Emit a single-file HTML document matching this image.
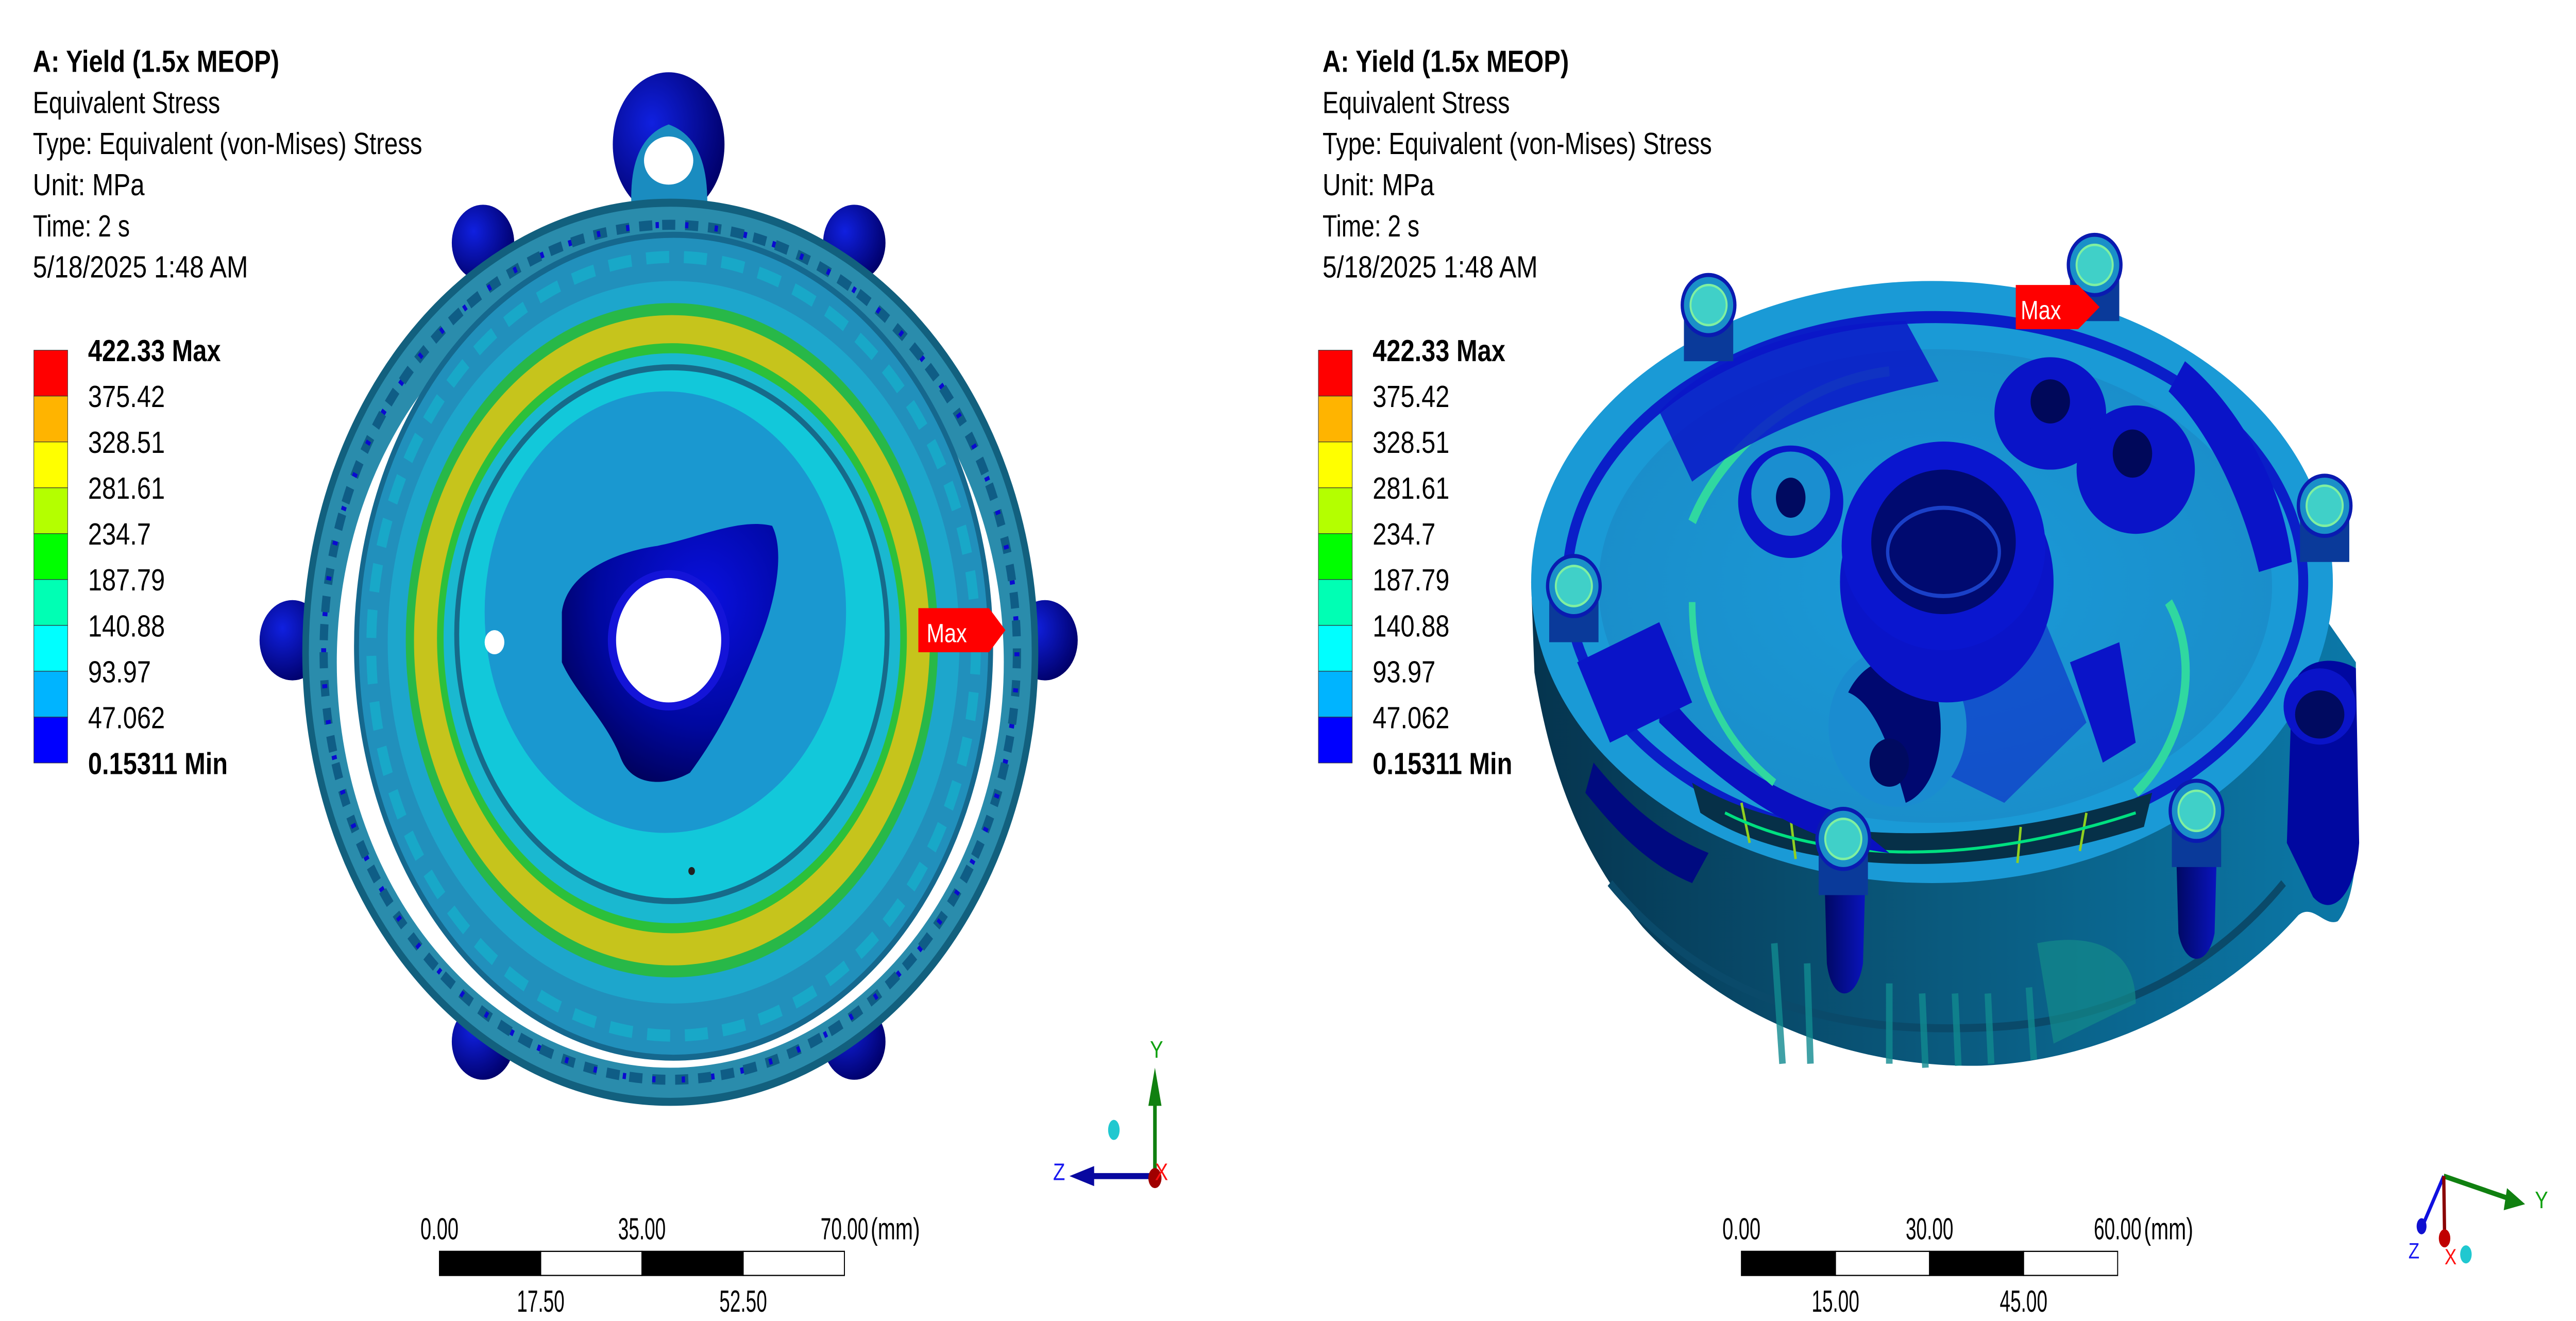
<!DOCTYPE html>
<html><head><meta charset="utf-8">
<style>
html,body{margin:0;padding:0;background:#fff;overflow:hidden;width:100%;height:100%;}
svg{display:block;position:absolute;left:0;top:0;width:100vw;height:100vh;}
text{font-family:"Liberation Sans",sans-serif;}
.cond{font-family:"Liberation Sans Narrow","Liberation Sans",sans-serif;}
</style></head>
<body>
<svg id="root" viewBox="0 0 1568 658.2" preserveAspectRatio="none" xmlns="http://www.w3.org/2000/svg">
<defs>
<radialGradient id="lugG" cx="0.35" cy="0.35" r="0.7"><stop offset="0" stop-color="#1020e0"/><stop offset="1" stop-color="#00006a"/></radialGradient>
<radialGradient id="blobG" cx="0.65" cy="0.3" r="0.8"><stop offset="0" stop-color="#0a10e0"/><stop offset="0.6" stop-color="#0008a0"/><stop offset="1" stop-color="#000050"/></radialGradient>
<linearGradient id="drumG" x1="0" x2="1" y1="0" y2="0"><stop offset="0" stop-color="#05344e"/><stop offset="0.5" stop-color="#0a5a7e"/><stop offset="1" stop-color="#0b78a8"/></linearGradient>
<radialGradient id="diskG" cx="0.5" cy="0.5" r="0.6"><stop offset="0" stop-color="#1a9ad8"/><stop offset="1" stop-color="#1a8cc8"/></radialGradient>
<linearGradient id="pillarG" x1="0" x2="1"><stop offset="0" stop-color="#000860"/><stop offset="1" stop-color="#0a14c0"/></linearGradient>
</defs>

<!-- LEFT PANEL -->
<g id="left-header">
<text x="20" y="35.8" font-size="15.3" font-weight="bold" textLength="150" lengthAdjust="spacingAndGlyphs">A: Yield (1.5x MEOP)</text>
<text x="20" y="56.3" font-size="15.3" textLength="114" lengthAdjust="spacingAndGlyphs">Equivalent Stress</text>
<text x="20" y="76.8" font-size="15.3" textLength="237" lengthAdjust="spacingAndGlyphs">Type: Equivalent (von-Mises) Stress</text>
<text x="20" y="97.3" font-size="15.3" textLength="68" lengthAdjust="spacingAndGlyphs">Unit: MPa</text>
<text x="20" y="117.8" font-size="15.3" textLength="59" lengthAdjust="spacingAndGlyphs">Time: 2 s</text>
<text x="20" y="138.3" font-size="15.3" textLength="131" lengthAdjust="spacingAndGlyphs">5/18/2025 1:48 AM</text>
</g>
<g id="legend-left"></g>

<!-- left model -->
<g id="left-model">
 <circle cx="178" cy="319" r="20" fill="url(#lugG)"/>
 <circle cx="636" cy="319" r="20" fill="url(#lugG)"/>
 <circle cx="294" cy="121" r="19" fill="url(#lugG)"/>
 <circle cx="520" cy="121" r="19" fill="url(#lugG)"/>
 <circle cx="294" cy="519" r="19" fill="url(#lugG)"/>
 <circle cx="520" cy="519" r="19" fill="url(#lugG)"/>
 <g>
  <ellipse cx="407" cy="72" rx="34" ry="36" fill="url(#lugG)"/>
  <path d="M385,110 Q380,70 407,62 Q434,70 430,110 Z" fill="#1a8cc0"/>
  <ellipse cx="407" cy="80" rx="15" ry="12" fill="#fff"/>
 </g>
 <ellipse cx="408" cy="325" rx="222" ry="224" fill="#2a8cac" stroke="#12607e" stroke-width="4"/>
 <ellipse cx="408" cy="325" rx="211" ry="213" fill="none" stroke="#0f5d86" stroke-width="5" stroke-dasharray="8 6"/>
 <ellipse cx="408" cy="325" rx="211" ry="213" fill="none" stroke="#0a0ad0" stroke-width="3" stroke-dasharray="2 16"/>
 <ellipse cx="408" cy="330" rx="203" ry="202" fill="#fff"/>
 <ellipse cx="410" cy="322" rx="193" ry="205" fill="#2190bc" stroke="#15688e" stroke-width="3"/>
 <ellipse cx="410" cy="322" rx="184" ry="194" fill="none" stroke="#18a8c8" stroke-width="6" stroke-dasharray="14 9"/>
 <ellipse cx="410" cy="320" rx="174" ry="180" fill="#1da6cc"/>
 <ellipse cx="409" cy="319" rx="162" ry="168" fill="#28b848"/>
 <ellipse cx="409" cy="319" rx="157" ry="162" fill="#c6c41c"/>
 <ellipse cx="409" cy="318" rx="143" ry="147" fill="#2cc03a"/>
 <ellipse cx="409" cy="318" rx="139" ry="142" fill="#1ab8d0"/>
 <ellipse cx="409" cy="316" rx="131" ry="133" fill="#12c8da" stroke="#166a8a" stroke-width="3"/>
 <ellipse cx="405" cy="305" rx="110" ry="110" fill="#1a98d0"/>
 <path d="M342,305 C345,285 375,275 400,272 C425,268 450,258 470,262 C478,275 472,300 462,320 C450,345 438,365 420,385 C405,392 385,392 378,378 C370,360 350,345 342,330 Z" fill="url(#blobG)"/>
 <ellipse cx="407" cy="319" rx="37" ry="35" fill="#1414d8"/>
 <ellipse cx="407" cy="319" rx="32" ry="31" fill="#fff"/>
 <circle cx="301" cy="320" r="6" fill="#fff"/>
 <circle cx="421" cy="434" r="2" fill="#222"/>
 <g>
  <path d="M559,303 L602,303 L612,314 L602,325 L559,325 Z" fill="#ff0000"/>
  <text x="564" y="320" font-size="13" fill="#fff">Max</text>
 </g>
</g>

<!-- left triad -->
<g>
 <ellipse cx="678" cy="563" rx="3.5" ry="5" fill="#20c8d0"/>
 <line x1="703" y1="586" x2="703" y2="550" stroke="#108010" stroke-width="2.2"/>
 <path d="M699,551 L703,532 L707,551 Z" fill="#108010"/>
 <text x="700" y="527" font-size="12" fill="#10a010">Y</text>
 <line x1="703" y1="586" x2="665" y2="586" stroke="#0808a0" stroke-width="3"/>
 <path d="M666,581 L651,586 L666,591 Z" fill="#0808a0"/>
 <text x="641" y="588" font-size="12" fill="#1818f0">Z</text>
 <ellipse cx="703" cy="587" rx="4" ry="5" fill="#a00000"/>
 <text x="703" y="588" font-size="12" fill="#ff1010">X</text>
</g>
<g id="scalebar-left"></g>

<!-- RIGHT PANEL -->
<g id="right-header">
<text x="805" y="35.8" font-size="15.3" font-weight="bold" textLength="150" lengthAdjust="spacingAndGlyphs">A: Yield (1.5x MEOP)</text>
<text x="805" y="56.3" font-size="15.3" textLength="114" lengthAdjust="spacingAndGlyphs">Equivalent Stress</text>
<text x="805" y="76.8" font-size="15.3" textLength="237" lengthAdjust="spacingAndGlyphs">Type: Equivalent (von-Mises) Stress</text>
<text x="805" y="97.3" font-size="15.3" textLength="68" lengthAdjust="spacingAndGlyphs">Unit: MPa</text>
<text x="805" y="117.8" font-size="15.3" textLength="59" lengthAdjust="spacingAndGlyphs">Time: 2 s</text>
<text x="805" y="138.3" font-size="15.3" textLength="131" lengthAdjust="spacingAndGlyphs">5/18/2025 1:48 AM</text>
</g>
<g id="legend-right"></g>

<g id="right-model">
 <path d="M932,290 L934,335 C944,385 962,425 1000,462 C1060,515 1140,532 1206,531 C1290,528 1360,492 1399,456 C1408,450 1415,462 1423,459 C1434,448 1436,420 1434,395 L1434,330 L1400,290 Z" fill="url(#drumG)"/>
 <path d="M980,440 C1040,500 1120,515 1206,512 C1290,510 1350,480 1390,440" fill="none" stroke="#0a4a6a" stroke-width="4"/>
 <path d="M1080,470 L1085,530 M1100,480 L1102,530 M1150,490 L1150,530 M1170,495 L1172,532 M1190,495 L1192,531 M1210,495 L1212,530 M1235,492 L1238,528" stroke="#118a90" stroke-width="4" opacity="0.8"/>
 <path d="M1240,470 C1270,465 1300,470 1300,500 L1250,520 Z" fill="#128a8a" opacity="0.7"/>
 <g>
  <path d="M1110,420 L1136,420 L1134,480 C1130,500 1115,500 1112,480 Z" fill="url(#pillarG)"/>
  <path d="M1324,405 L1350,405 L1348,465 C1344,482 1330,482 1326,465 Z" fill="url(#pillarG)"/>
  <path d="M945,292 L970,292 L968,330 C962,345 950,340 947,330 Z" fill="url(#pillarG)"/>
 </g>
 <ellipse cx="1176" cy="290" rx="244" ry="150" fill="#1a9ad6"/>
 <ellipse cx="1178" cy="290" rx="224" ry="132" fill="none" stroke="#0a1ec8" stroke-width="6"/>
 <ellipse cx="1178" cy="292" rx="205" ry="118" fill="url(#diskG)"/>
 <path d="M1030,390 C1090,420 1200,425 1310,395 L1305,412 C1200,440 1090,435 1035,405 Z" fill="#063048"/>
 <path d="M1060,400 L1065,420 M1090,408 L1093,428 M1130,412 L1132,430 M1230,412 L1228,430 M1270,405 L1266,424" stroke="#90d020" stroke-width="1.5"/>
 <path d="M1050,405 C1110,430 1200,432 1300,405" fill="none" stroke="#00e080" stroke-width="1.5"/>
 <path d="M1010,360 C1060,400 1100,420 1150,425 L1120,405 C1080,395 1040,375 1010,340 Z" fill="#0a10c0"/>
 <path d="M1030,260 C1050,220 1100,190 1150,185" fill="none" stroke="#30d8a0" stroke-width="5"/>
 <path d="M1320,300 C1340,330 1330,370 1300,395" fill="none" stroke="#30d8a0" stroke-width="5"/>
 <path d="M1030,300 C1030,340 1050,370 1080,390" fill="none" stroke="#30d8a0" stroke-width="4"/>
 <path d="M1010,205 C1050,170 1120,160 1160,160 L1180,190 C1120,200 1070,215 1030,240 Z" fill="#0a16c8" opacity="0.85"/>
 <path d="M1180,280 L1240,300 L1270,360 L1220,400 L1170,380 Z" fill="#0a14c8" opacity="0.5"/>
 <path d="M1260,330 L1280,380 L1300,370 L1290,320 Z" fill="#0a14c8"/>
 <path d="M960,330 L1010,310 L1030,350 L980,370 Z" fill="#0a14c8"/>
 <path d="M1330,180 C1360,200 1390,240 1395,280 L1375,285 C1365,250 1345,215 1320,195 Z" fill="#0a14c8"/>
 <path d="M970,380 C990,400 1010,415 1040,425 L1030,440 C1000,430 980,410 965,395 Z" fill="#000a80"/>
 <g><ellipse cx="1090" cy="250" rx="32" ry="28" fill="#0a14c8"/><ellipse cx="1090" cy="246" rx="24" ry="21" fill="#1a8ed0"/><ellipse cx="1090" cy="248" rx="9" ry="10" fill="#000a60"/></g>
 <g><ellipse cx="1248" cy="206" rx="34" ry="28" fill="#0a14c8"/><ellipse cx="1248" cy="200" rx="12" ry="11" fill="#00085a"/></g>
 <g><ellipse cx="1300" cy="234" rx="36" ry="32" fill="#0a14c8"/><ellipse cx="1298" cy="226" rx="12" ry="12" fill="#00085a"/></g>
 <g><ellipse cx="1155" cy="362" rx="42" ry="40" fill="#1a8cd0"/><path d="M1125,345 C1140,320 1175,325 1180,350 C1185,375 1175,395 1160,400 C1150,370 1140,350 1125,345 Z" fill="#000870"/><ellipse cx="1150" cy="380" rx="12" ry="12" fill="#000a60"/></g>
 <g>
  <ellipse cx="1185" cy="290" rx="65" ry="60" fill="#0a14c8"/>
  <ellipse cx="1183" cy="272" rx="62" ry="52" fill="#0a16cf"/>
  <ellipse cx="1183" cy="270" rx="44" ry="36" fill="#000a70"/>
  <ellipse cx="1183" cy="275" rx="34" ry="22" fill="none" stroke="#1a40c8" stroke-width="2"/>
 </g>
 <g>
  <path d="M1395,345 C1398,328 1420,326 1434,333 L1436,420 C1434,445 1420,458 1408,447 L1392,420 Z" fill="#0008a0"/>
  <ellipse cx="1412" cy="352" rx="22" ry="19" fill="#0a14c8"/>
  <ellipse cx="1412" cy="356" rx="15" ry="12" fill="#000a60"/>
 </g>
 <g id="bolts"></g>
 <g>
  <path d="M1227,142 L1265,142 L1278,153 L1265,164 L1227,164 Z" fill="#ff0000"/>
  <text x="1230" y="159" font-size="13" fill="#fff">Max</text>
 </g>
</g>

<g>
 <line x1="1487.5" y1="586" x2="1530" y2="598" stroke="#108010" stroke-width="2.5"/>
 <path d="M1526,592 L1537,600 L1524,603 Z" fill="#108010"/>
 <text x="1543" y="602" font-size="12" fill="#10a010">Y</text>
 <line x1="1487.5" y1="586" x2="1475" y2="610" stroke="#1010e0" stroke-width="2"/>
 <ellipse cx="1474" cy="611" rx="3" ry="4" fill="#1010d0"/>
 <text x="1466" y="627" font-size="11" fill="#1818f0">Z</text>
 <line x1="1487.5" y1="586" x2="1488" y2="615" stroke="#8a0000" stroke-width="2"/>
 <ellipse cx="1488" cy="617" rx="3.5" ry="4.5" fill="#c00000"/>
 <text x="1488" y="630" font-size="11" fill="#ff1010">X</text>
 <ellipse cx="1501" cy="625" rx="3.5" ry="4.5" fill="#20c8d0"/>
</g>
<g id="scalebar-right"></g>
</svg>

<script>
// legend data
var legendLabels = ["422.33 Max","375.42","328.51","281.61","234.7","187.79","140.88","93.97","47.062","0.15311 Min"];
var legendColors = ["#ff0000","#ffb400","#ffff00","#b4ff00","#00ff00","#00ffb4","#00ffff","#00b4ff","#0000ff"];
// scale bar data
var leftScaleTop = ["0.00","35.00","70.00"];
var leftScaleBottom = ["17.50","52.50"];
var rightScaleTop = ["0.00","30.00","60.00"];
var rightScaleBottom = ["15.00","45.00"];
var boltCenters = [[1040,152],[1275,132],[1415,252],[958,292],[1122,418],[1337,404]];

var NS = "http://www.w3.org/2000/svg";
function mk(tag, attrs, parent){
  var e = document.createElementNS(NS, tag);
  for (var k in attrs) e.setAttribute(k, attrs[k]);
  parent.appendChild(e);
  return e;
}
function drawLegend(gid, x0){
  var g = document.getElementById(gid);
  var top = 174.5, h = 22.85;
  legendColors.forEach(function(c, i){
    var r = mk("rect", {x:x0, y:top+i*h, width:20.6, height:h, fill:c, stroke:"#333", "stroke-width":0.3}, g);
    
    
  });
  legendLabels.forEach(function(l, i){
    var bold = (i===0 || i===legendLabels.length-1);
    var t = mk("text", {x:x0+33, y:top+i*h+5.5, "font-size":15.3, "font-weight": bold?"bold":"normal"}, g);
    t.textContent = l;
    
    
  });
}
drawLegend("legend-left", 20.6);
drawLegend("legend-right", 802.5);

function drawScale(gid, x0, x1, topL, botL){
  var g = document.getElementById(gid);
  var y = 623.5, h = 12, seg = (x1-x0)/4;
  for (var i=0;i<4;i++){
    var r = mk("rect", {x:x0+i*seg, y:y, width:seg, height:h, fill:(i%2===0)?"#000":"#fff", stroke:"#000", "stroke-width":0.6}, g);
    
    
  }
  topL.forEach(function(l, i){
    var t = mk("text", {x:x0+i*2*seg, y:617.5, "font-size":15.3, "text-anchor":"middle", "class":"cond", textLength: l.length*5.8, lengthAdjust:"spacingAndGlyphs"}, g);
    t.textContent = l;
    
    
  });
  var u = mk("text", {x:x1+16, y:617.5, "font-size":15.3, "class":"cond", textLength:30, lengthAdjust:"spacingAndGlyphs"}, g);
  u.textContent = "(mm)";
  
  
  botL.forEach(function(l, i){
    var t = mk("text", {x:x0+(1+2*i)*seg, y:653.6, "font-size":15.3, "text-anchor":"middle", "class":"cond", textLength: l.length*5.8, lengthAdjust:"spacingAndGlyphs"}, g);
    t.textContent = l;
    
    
  });
}
drawScale("scalebar-left", 267.5, 514, leftScaleTop, leftScaleBottom);
drawScale("scalebar-right", 1060, 1289, rightScaleTop, rightScaleBottom);

var bg = document.getElementById("bolts");
boltCenters.forEach(function(p){
  var b = mk("g", {}, bg);
  
  
  mk("path", {d:"M"+(p[0]-15)+","+p[1]+" L"+(p[0]-15)+","+(p[1]+28)+" L"+(p[0]+15)+","+(p[1]+28)+" L"+(p[0]+15)+","+p[1]+" Z", fill:"#0a3a9a"}, b);
  mk("ellipse", {cx:p[0], cy:p[1], rx:16, ry:15, fill:"#1a90c8", stroke:"#0a1ab0", "stroke-width":2}, b);
  mk("ellipse", {cx:p[0], cy:p[1], rx:11, ry:10, fill:"#40d0c8", stroke:"#80f0a0", "stroke-width":1.2}, b);
});
</script>
</body></html>
